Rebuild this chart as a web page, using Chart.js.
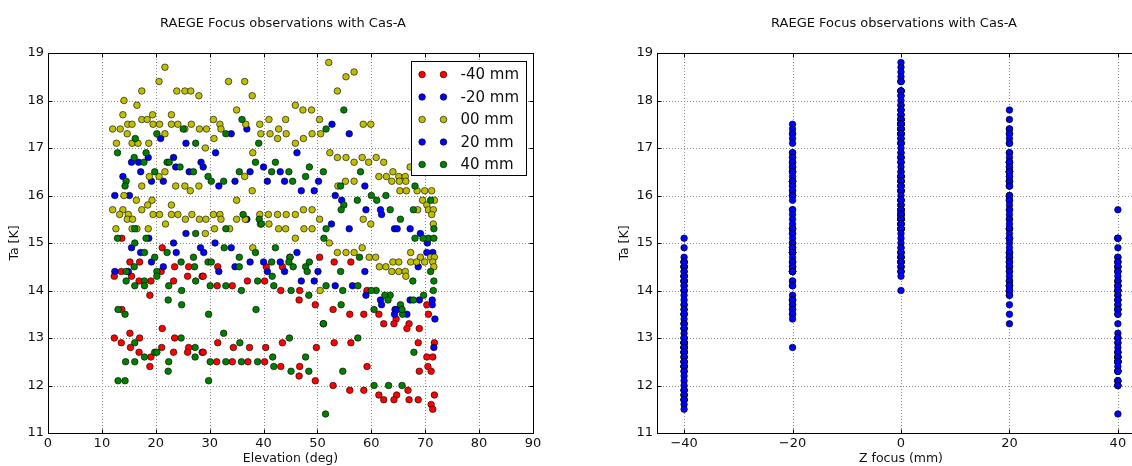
<!DOCTYPE html>
<html>
<head>
<meta charset="utf-8">
<title>RAEGE Focus observations with Cas-A</title>
<script src="https://cdn.jsdelivr.net/npm/chart.js"></script>
<style>
  html, body { margin: 0; padding: 0; background: #fff; overflow: hidden; width: 1132px; height: 466px; }
  canvas { position: absolute; top: 0; }
  #leftChart { left: 0; }
  #rightChart { left: 600px; }
</style>
</head>
<body>
<canvas id="leftChart" width="560" height="466"></canvas>
<canvas id="rightChart" width="600" height="466"></canvas>
<script>
// focus positions and legend text
const focusLabels = ['-40 mm', '-20 mm', '00 mm', '20 mm', '40 mm'];
const focusValues = [-40, -20, 0, 20, 40];

// tick values
const elevTicks = [0, 10, 20, 30, 40, 50, 60, 70, 80, 90];
const focusTicks = [-40, -20, 0, 20, 40];
const taTicks = [11, 12, 13, 14, 15, 16, 17, 18, 19];

// -40 mm : elevation (deg) and Ta (K)
const elevM40 = [13.7, 21.2, 50.4, 15.2, 17.0, 53.1, 56.2, 23.5, 26.1, 31.5, 40.5, 43.5, 13.6, 21.0,
  12.3, 15.5, 25.9, 28.6, 28.8, 16.9, 19.1, 23.3, 37.0, 40.2, 31.4, 34.2, 43.2, 46.7, 59.2, 18.9, 46.6,
  49.6, 70.3, 13.7, 52.9, 56.0, 58.6, 61.4, 70.6, 64.6, 62.3, 64.2, 67.0, 21.2, 66.6, 68.9, 15.2,
  12.3, 17.0, 23.5, 13.6, 31.5, 43.5, 53.1, 56.2, 68.7, 71.7, 15.3, 21.1, 26.1, 34.4, 37.4, 40.4, 49.8,
  16.9, 23.3, 25.9, 28.6, 28.8, 19.1, 70.3, 71.4, 31.3, 34.2, 37.1, 40.2, 18.9, 43.2, 46.7, 59.2, 70.5,
  68.9, 71.1, 46.6, 49.6, 52.9, 56.0, 58.6, 66.8, 61.4, 64.7, 71.7, 62.3, 64.2, 67.0, 68.7, 71.1, 71.4];
const taM40 = [15.1, 14.9, 14.7, 14.6, 14.6, 14.6, 14.6, 14.5, 14.5, 14.5, 14.5, 14.5, 14.4, 14.4,
  14.3, 14.3, 14.3, 14.3, 14.3, 14.2, 14.2, 14.2, 14.2, 14.2, 14.1, 14.1, 14.0, 14.0, 14.0, 13.9, 13.8,
  13.7, 13.7, 13.6, 13.6, 13.5, 13.5, 13.5, 13.5, 13.4, 13.3, 13.3, 13.3, 13.2, 13.2, 13.2, 13.1,
  13.0, 13.0, 13.0, 12.9, 12.9, 12.9, 12.9, 12.9, 12.9, 12.9, 12.8, 12.8, 12.8, 12.8, 12.8, 12.8, 12.8,
  12.7, 12.7, 12.7, 12.7, 12.7, 12.6, 12.6, 12.6, 12.5, 12.5, 12.5, 12.5, 12.4, 12.4, 12.4, 12.4, 12.4,
  12.3, 12.3, 12.2, 12.1, 12.0, 11.9, 11.9, 11.9, 11.8, 11.8, 11.8, 11.7, 11.7, 11.7, 11.7, 11.6, 11.5];

// -20 mm
const elevM20 = [52.7, 36.9, 34.0, 55.9, 20.9, 25.6, 31.1, 46.2, 18.6, 23.3, 15.5, 16.8, 28.4,
  23.7, 28.8, 40.0, 17.2, 26.2, 37.5, 43.1, 13.9, 19.2, 21.4, 34.7, 40.7, 43.9, 50.2, 31.7, 58.8,
  47.0, 49.4, 12.4, 15.1, 53.3, 54.5, 59.0, 61.7, 61.9, 36.9, 52.6, 55.9, 64.3, 64.8, 67.2, 25.6, 69.1,
  18.7, 23.3, 31.0, 70.4, 15.5, 28.3, 34.0, 17.2, 23.8, 28.9, 46.2, 70.3, 71.4, 44.9,
  19.2, 37.5, 40.0, 43.1, 21.4, 34.7, 68.7, 12.4, 14.9, 31.7, 40.7, 43.9, 50.1, 58.8,
  47.0, 49.4, 53.3, 56.5, 59.0, 61.7, 67.2, 68.9, 71.3, 61.9, 71.3, 64.4, 64.8, 64.3, 66.6, 71.8, 71.6];
const taM20 = [17.5, 17.4, 17.3, 17.3, 17.2, 17.1, 16.9, 16.9, 16.8, 16.8, 16.7, 16.7, 16.7,
  16.6, 16.6, 16.6, 16.5, 16.5, 16.5, 16.5, 16.4, 16.3, 16.3, 16.3, 16.3, 16.3, 16.3, 16.2, 16.2,
  16.1, 16.1, 16.0, 16.0, 16.0, 15.9, 15.7, 15.7, 15.6, 15.5, 15.4, 15.3, 15.3, 15.3, 15.3, 15.2, 15.2,
  15.1, 15.0, 15.0, 15.0, 14.9, 14.9, 14.9, 14.8, 14.8, 14.8, 14.8, 14.8, 14.8, 14.7,
  14.6, 14.6, 14.6, 14.6, 14.5, 14.5, 14.5, 14.4, 14.4, 14.4, 14.4, 14.4, 14.4, 14.4,
  14.2, 14.2, 14.1, 14.1, 13.9, 13.8, 13.8, 13.8, 13.8, 13.7, 13.7, 13.6, 13.6, 13.5, 13.5, 13.4, 12.8];

// 00 mm
const elev00 = [52.1, 21.7, 56.8, 55.3, 20.6, 33.5, 36.5, 17.4, 23.9, 25.4, 26.5, 53.7, 28.0, 37.9,
  14.1, 16.5, 45.9, 35.0, 47.3, 48.9, 13.9, 19.4, 22.9, 17.4, 18.4, 30.7, 41.0, 44.1, 50.4,
  14.8, 15.6, 19.5, 20.7, 22.9, 24.1, 26.6, 31.9, 36.7, 39.3, 58.5, 59.9,
  12.0, 13.4, 25.4, 28.1, 29.4, 32.1, 42.8, 14.7, 21.7, 39.5, 41.2, 44.2, 49.0, 50.6,
  30.8, 42.6, 47.4, 12.7, 15.6, 16.7, 18.7, 45.9, 29.2, 38.0, 52.3, 53.7, 55.3, 58.3, 60.9,
  56.8, 59.5, 62.3, 67.2, 21.7, 64.0, 18.8, 20.6, 36.5, 61.4, 62.8, 65.1, 66.3,
  55.2, 56.8, 63.8, 65.2, 66.4, 17.4, 23.7, 25.4, 28.0, 53.8, 26.4, 37.9, 65.3, 66.5, 68.5, 69.9, 71.2,
  14.1, 16.4, 19.3, 35.0, 69.5, 71.7, 18.5, 22.9, 70.3, 12.0, 13.9, 17.4, 47.4, 49.0, 68.6, 70.6, 71.5,
  13.3, 14.9, 19.5, 20.7, 22.9, 24.1, 26.7, 30.7, 31.9, 39.3, 40.9, 42.6, 44.2, 45.9, 71.2,
  14.7, 15.7, 25.5, 28.1, 29.3, 32.1, 35.0, 36.6, 50.4, 58.5, 21.8, 39.4, 41.0, 59.9, 71.5,
  12.6, 15.6, 16.5, 18.6, 30.9, 33.7, 42.8, 44.1, 47.5, 49.0, 29.2, 45.9, 52.2, 38.0, 58.3,
  53.7, 55.3, 56.8, 67.3, 59.6, 60.8, 69.1, 71.0, 71.7, 64.0, 65.1, 67.3, 68.4, 69.9, 71.4,
  61.5, 62.7, 71.6, 63.8, 65.1, 66.3, 66.4, 50.5];
const ta00 = [18.8, 18.7, 18.6, 18.5, 18.4, 18.4, 18.4, 18.2, 18.2, 18.2, 18.2, 18.2, 18.1, 18.1,
  18.0, 17.9, 17.9, 17.8, 17.8, 17.8, 17.7, 17.7, 17.7, 17.6, 17.6, 17.6, 17.6, 17.6, 17.6,
  17.5, 17.5, 17.5, 17.5, 17.5, 17.5, 17.5, 17.5, 17.5, 17.5, 17.5, 17.5,
  17.4, 17.4, 17.4, 17.4, 17.4, 17.4, 17.4, 17.3, 17.3, 17.3, 17.3, 17.3, 17.3, 17.3,
  17.2, 17.2, 17.2, 17.1, 17.1, 17.1, 17.1, 17.1, 17.0, 16.9, 16.9, 16.8, 16.8, 16.8, 16.8,
  16.7, 16.7, 16.7, 16.6, 16.5, 16.5, 16.4, 16.4, 16.4, 16.4, 16.4, 16.4, 16.4,
  16.3, 16.3, 16.3, 16.3, 16.3, 16.2, 16.2, 16.2, 16.2, 16.2, 16.1, 16.1, 16.1, 16.1, 16.1, 16.1, 16.1,
  16.0, 15.9, 15.9, 15.9, 15.9, 15.9, 15.8, 15.8, 15.8, 15.7, 15.7, 15.7, 15.7, 15.7, 15.7, 15.7, 15.7,
  15.6, 15.6, 15.6, 15.6, 15.6, 15.6, 15.6, 15.6, 15.6, 15.6, 15.6, 15.6, 15.6, 15.6, 15.6,
  15.5, 15.5, 15.5, 15.5, 15.5, 15.5, 15.5, 15.5, 15.5, 15.5, 15.4, 15.4, 15.4, 15.4, 15.4,
  15.3, 15.3, 15.3, 15.3, 15.3, 15.3, 15.3, 15.3, 15.3, 15.3, 15.2, 15.1, 15.0, 14.9, 14.9,
  14.8, 14.8, 14.8, 14.8, 14.7, 14.7, 14.7, 14.7, 14.7, 14.6, 14.6, 14.6, 14.6, 14.6, 14.6,
  14.5, 14.5, 14.5, 14.4, 14.4, 14.4, 14.3, 14.0];

// 20 mm
const elevP20 = [54.9, 36.0, 25.1, 51.6, 20.2, 33.0, 16.2, 27.4, 39.1, 12.9, 18.2, 16.0,
  17.8, 22.1, 22.5, 38.5, 42.2, 24.5, 48.5, 19.8, 27.0, 35.5, 41.5, 44.7, 51.1, 58.0, 29.7, 47.8,
  14.5, 30.3, 32.6, 45.4, 14.3, 54.3, 68.1, 60.0, 62.7, 57.4, 61.0, 71.0, 54.9, 54.4, 63.5, 36.2,
  39.2, 65.4, 39.6, 16.1, 33.0, 51.6, 71.6, 27.4, 12.9, 18.2, 68.1, 70.6, 16.1, 32.7, 17.9, 22.1, 38.5,
  19.8, 35.5, 57.8, 29.7, 41.5, 48.5, 27.2, 45.5, 20.2, 54.3, 41.6, 17.9, 38.9, 71.6,
  17.9, 30.1, 41.9, 57.5, 35.9, 54.7, 60.9, 48.4, 63.5, 54.4, 65.8, 51.1];
const taP20 = [17.8, 17.6, 17.4, 17.4, 17.3, 17.3, 17.2, 17.1, 17.1, 16.9, 16.9, 16.8,
  16.7, 16.7, 16.7, 16.7, 16.7, 16.6, 16.6, 16.5, 16.5, 16.5, 16.5, 16.5, 16.5, 16.5, 16.4, 16.4,
  16.3, 16.3, 16.3, 16.3, 16.2, 16.2, 16.2, 16.0, 16.0, 15.9, 15.9, 15.9, 15.8, 15.7, 15.7, 15.6,
  15.5, 15.5, 15.4, 15.3, 15.3, 15.3, 15.3, 15.2, 15.1, 15.1, 15.1, 15.1, 15.0, 14.9, 14.8, 14.8, 14.8,
  14.7, 14.7, 14.7, 14.6, 14.6, 14.6, 14.5, 14.5, 14.4, 14.4, 14.3, 14.2, 14.2, 14.2,
  14.1, 14.1, 14.1, 14.1, 14.0, 14.0, 14.0, 13.9, 13.9, 13.7, 13.5, 13.3];

// 40 mm
const elevP40 = [67.8, 51.2, 69.6, 71.6, 42.2, 27.0, 44.9, 24.7, 30.3, 44.7, 16.0, 35.5, 47.8,
  14.5, 48.1, 71.0, 20.2, 14.5, 27.4, 67.7, 16.1, 22.4, 33.0, 51.6, 24.8, 45.1, 60.0, 71.5,
  62.5, 69.7, 22.3, 63.1, 67.8, 24.8, 65.4, 13.0, 38.6, 60.5, 65.7, 14.3, 29.8, 51.1, 32.6,
  24.7, 44.8, 57.5, 16.1, 35.6, 27.3, 19.8, 20.2, 67.9, 17.9, 27.3, 41.7, 47.8,
  14.4, 16.1, 22.4, 30.1, 33.0, 35.9, 38.9, 41.9, 22.3, 45.1, 48.4, 54.7, 13.0, 14.3, 29.8,
  60.5, 63.2, 65.7, 51.5];
const taP40 = [15.7, 15.1, 15.1, 15.1, 14.9, 14.7, 14.7, 14.6, 14.6, 14.6, 14.5, 14.5, 14.5,
  14.4, 14.4, 14.4, 14.3, 14.2, 14.2, 14.2, 14.1, 14.1, 14.1, 14.1, 14.0, 14.0, 14.0, 14.0,
  13.9, 13.9, 13.8, 13.8, 13.8, 13.7, 13.7, 13.6, 13.6, 13.6, 13.6, 13.5, 13.5, 13.3, 13.1,
  13.0, 13.0, 13.0, 12.9, 12.9, 12.8, 12.7, 12.7, 12.7, 12.6, 12.6, 12.6, 12.6,
  12.5, 12.5, 12.5, 12.5, 12.5, 12.5, 12.5, 12.4, 12.3, 12.3, 12.3, 12.3, 12.1, 12.1, 12.1,
  12.0, 12.0, 12.0, 11.4];

const elevSeries = [elevM40, elevM20, elev00, elevP20, elevP40];
const taSeries = [taM40, taM20, ta00, taP20, taP40];

// marker colours as drawn, and as shown in the legend box
const markerColors = ['#ff0000', '#0000ff', '#bfbf00', '#008000', '#008000'];
const legendColors = ['#ff0000', '#0000ff', '#bfbf00', '#0000ff', '#008000'];

const FONT = '"DejaVu Sans", sans-serif';
const TXT = '#111';
const R = 3.3;

function fmt(v) {
  return v < 0 ? '\u2212' + Math.abs(v) : String(v);
}

function dot(ctx, x, y, fill) {
  ctx.beginPath();
  ctx.arc(x, y, R, 0, Math.PI * 2);
  ctx.fillStyle = fill;
  ctx.fill();
  ctx.lineWidth = 0.6;
  ctx.strokeStyle = '#000';
  ctx.stroke();
}

// matplotlib look: dotted grid, black frame, inward ticks, title, boxed legend
const mplFrame = {
  id: 'mplFrame',
  beforeDatasetsDraw(chart) {
    const { ctx, chartArea: a, scales: { x, y } } = chart;
    ctx.save();
    ctx.strokeStyle = '#8a8a8a';
    ctx.lineWidth = 1;
    ctx.setLineDash([1, 2]);
    x.ticks.forEach(t => {
      const px = Math.round(x.getPixelForValue(t.value)) + 0.5;
      if (px < a.left + 2 || px > a.right - 2) return;
      ctx.beginPath(); ctx.moveTo(px, a.top); ctx.lineTo(px, a.bottom); ctx.stroke();
    });
    y.ticks.forEach(t => {
      const py = Math.round(y.getPixelForValue(t.value)) + 0.5;
      if (py < a.top + 2 || py > a.bottom - 2) return;
      ctx.beginPath(); ctx.moveTo(a.left, py); ctx.lineTo(a.right, py); ctx.stroke();
    });
    ctx.restore();
  },
  afterDatasetsDraw(chart, args, opts) {
    const { ctx, chartArea: a, scales: { x, y } } = chart;
    ctx.save();
    ctx.setLineDash([]);
    ctx.strokeStyle = '#000';
    ctx.lineWidth = 1;
    const L = Math.round(a.left) + 0.5, T = Math.round(a.top) + 0.5;
    const Rt = Math.round(a.right) + 0.5, B = Math.round(a.bottom) + 0.5;
    ctx.strokeRect(L, T, Rt - L, B - T);
    ctx.beginPath();
    x.ticks.forEach(t => {
      const px = Math.round(x.getPixelForValue(t.value)) + 0.5;
      ctx.moveTo(px, B); ctx.lineTo(px, B - 4);
      ctx.moveTo(px, T); ctx.lineTo(px, T + 4);
    });
    y.ticks.forEach(t => {
      const py = Math.round(y.getPixelForValue(t.value)) + 0.5;
      ctx.moveTo(L, py); ctx.lineTo(L + 4, py);
      ctx.moveTo(Rt, py); ctx.lineTo(Rt - 4, py);
    });
    ctx.stroke();

    if (opts.legend) {
      const w = 115, h = 114;
      const bx = Math.round(a.right - 7 - w) + 0.5, by = Math.round(a.top + 8) + 0.5;
      ctx.fillStyle = '#fff';
      ctx.fillRect(bx, by, w, h);
      ctx.strokeStyle = '#000';
      ctx.lineWidth = 1;
      ctx.strokeRect(bx, by, w, h);
      ctx.font = '15px ' + FONT;
      ctx.textBaseline = 'middle';
      ctx.textAlign = 'left';
      focusLabels.forEach((lab, i) => {
        const ry = by + 13 + i * 22.5;
        dot(ctx, bx + 10.6, ry, legendColors[i]);
        dot(ctx, bx + 32, ry, legendColors[i]);
        ctx.fillStyle = TXT;
        ctx.fillText(lab, bx + 49, ry + 1);
      });
    }
    ctx.restore();
  },
  afterDraw(chart, args, opts) {
    const { ctx } = chart;
    ctx.save();
    ctx.font = '13px ' + FONT;
    ctx.fillStyle = TXT;
    ctx.textAlign = 'center';
    ctx.textBaseline = 'alphabetic';
    ctx.fillText(opts.title, opts.titleX, 27);
    ctx.restore();
  }
};

function axisOpts(min, max, tickVals, title, fitFn, titlePad, tickPad) {
  return {
    type: 'linear',
    min: min,
    max: max,
    afterBuildTicks: s => { s.ticks = tickVals.map(v => ({ value: v })); },
    afterFit: fitFn,
    grid: { display: false, drawTicks: false },
    border: { display: false },
    ticks: {
      autoSkip: false, maxRotation: 0, padding: tickPad, color: TXT,
      font: { family: FONT, size: 13 },
      callback: v => fmt(v)
    },
    title: { display: true, text: title, color: TXT, font: { family: FONT, size: 12.5 }, padding: titlePad }
  };
}

function makeChart(id, datasets, cfg) {
  return new Chart(document.getElementById(id), {
    type: 'scatter',
    data: { datasets: datasets },
    options: {
      responsive: false,
      animation: false,
      events: [],
      layout: { padding: { top: 53, right: cfg.padRight, left: 0, bottom: 0 } },
      plugins: {
        legend: { display: false },
        tooltip: { enabled: false },
        mplFrame: { title: 'RAEGE Focus observations with Cas-A', titleX: cfg.titleX, legend: cfg.legend }
      },
      scales: {
        x: axisOpts(cfg.xMin, cfg.xMax, cfg.xTicks, cfg.xTitle, s => { s.height = 33; }, { top: 0, bottom: 0 }, 2.5),
        y: axisOpts(11, 19, taTicks, 'Ta [K]', s => { s.width = cfg.yWidth; }, { top: cfg.yTitlePad, bottom: 0 }, 4)
      }
    },
    plugins: [mplFrame]
  });
}

const leftSets = elevSeries.map((el, i) => ({
  label: focusLabels[i],
  data: el.map((e, j) => ({ x: e, y: taSeries[i][j] })),
  backgroundColor: markerColors[i],
  borderColor: '#000',
  borderWidth: 0.6,
  pointRadius: R,
  order: 5 - i
}));

const rightSets = taSeries.map((ta, i) => ({
  label: focusLabels[i],
  data: ta.map(t => ({ x: focusValues[i], y: t })),
  backgroundColor: '#0000ff',
  borderColor: '#000',
  borderWidth: 0.6,
  pointRadius: R,
  order: 5 - i
}));

makeChart('leftChart', leftSets, {
  xMin: 0, xMax: 90, xTicks: elevTicks, xTitle: 'Elevation (deg)',
  yWidth: 48, yTitlePad: 7.5, padRight: 27, titleX: 283, legend: true
});

makeChart('rightChart', rightSets, {
  xMin: -45, xMax: 45, xTicks: focusTicks, xTitle: 'Z focus (mm)',
  yWidth: 57, yTitlePad: 17.5, padRight: 55, titleX: 294, legend: false
});
</script>
</body>
</html>
